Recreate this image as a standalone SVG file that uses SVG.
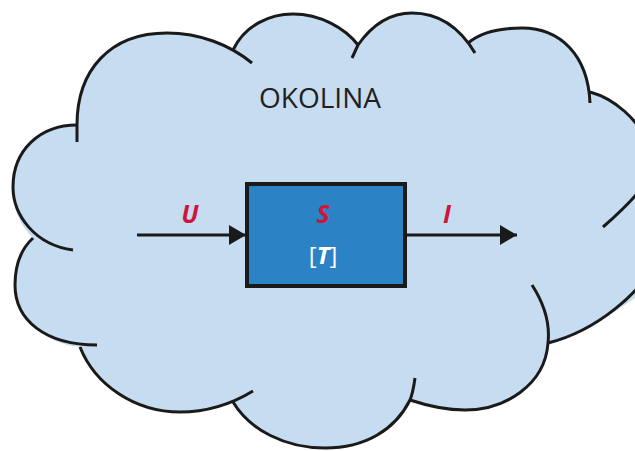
<svg xmlns="http://www.w3.org/2000/svg" width="635" height="451" viewBox="0 0 635 451">
<defs>
<style>
.lobe{fill:none;stroke:#1a1a1a;stroke-width:3;stroke-linecap:butt;stroke-linejoin:round}
.conn{fill:none;stroke:#1a1a1a;stroke-width:3}
.var{font-family:"Open Sans","Liberation Sans",sans-serif;font-weight:700;font-style:italic;font-size:25px;fill:#d0143c;text-anchor:middle}
.lbl{font-family:"Open Sans","Liberation Sans",sans-serif;font-size:28px;fill:#231f20;text-anchor:middle}
.inner{font-family:"Open Sans","Liberation Sans",sans-serif;font-size:24px;fill:#ffffff;text-anchor:middle}
</style>
<marker id="arr" viewBox="0 0 17 20" refX="17" refY="10" markerWidth="17" markerHeight="20" markerUnits="userSpaceOnUse" orient="auto">
<path d="M0,0 L17,10 L0,20 Z" fill="#1a1a1a"/>
</marker>
</defs>
<rect width="635" height="451" fill="#ffffff"/>
<g id="okolina">
<path fill="#c6dcf1" stroke="none" d="M77,125 C77,70 110,33 167,33 C200,33 222,42 233,50 C245,25 270,14 293,14 C320,14 345,28 358,45 C372,25 390,13 412,13 C440,13 458,28 468,43 C480,33 500,28 522,28 C560,28 588,55 590,92 C612,98 640,118 650,150 L665,200 L665,280 C640,290 600,330 548,343 C545,385 505,410 465,410 C445,410 425,405 410,400 C395,430 365,448 325,448 C285,448 250,430 233,402 C215,410 200,412 180,412 C135,412 95,385 80,347 C50,345 15,320 15,285 C15,268 20,250 33,238 C20,225 13,210 13,187 C13,150 40,125 77,125 Z"/>
<path class="lobe" d="M77,142 L77,125 C77,70 110,33 167,33 C200,33 230,45 252,63"/>
<path class="lobe" d="M233,50 C245,25 270,14 293,14 C320,14 345,28 358,45"/>
<path class="lobe" d="M352,58 L358,45 C372,25 390,13 412,13 C440,13 460,28 475,53"/>
<path class="lobe" d="M468,43 C480,33 500,28 522,28 C560,28 588,55 590,103"/>
<path class="lobe" d="M590,92 C612,98 640,118 650,150 C655,175 645,190 603,227"/>
<path class="lobe" d="M648,205 C665,225 662,255 650,270 C640,290 600,330 548,343"/>
<path class="lobe" d="M532,285 C545,305 550,325 548,343 C545,385 505,410 465,410 C445,410 425,405 410,400"/>
<path class="lobe" d="M415,378 C414,385 413,393 410,400 C395,430 365,448 325,448 C285,448 250,430 233,402"/>
<path class="lobe" d="M80,347 C95,385 135,412 180,412 C205,412 230,405 253,391"/>
<path class="lobe" d="M33,238 C20,250 15,268 15,285 C15,320 45,345 97,345"/>
<path class="lobe" d="M77,125 C40,125 13,150 13,187 C13,215 35,245 73,250"/>
<text class="lbl" x="320" y="108">OKOLINA</text>
</g>
<g id="connectors">
<line class="conn" x1="137" y1="235" x2="246" y2="235" marker-end="url(#arr)"/>
<line class="conn" x1="407" y1="235" x2="517" y2="235" marker-end="url(#arr)"/>
<text class="var" x="190" y="223">U</text>
<text class="var" x="447" y="223">I</text>
</g>
<g id="system">
<rect x="247" y="184" width="158" height="102" fill="#2b83c5" stroke="#1a1a1a" stroke-width="4"/>
<text class="var" x="323" y="223">S</text>
<text class="inner" x="323" y="264">[<tspan font-weight="700" font-style="italic">T</tspan>]</text>
</g>
</svg>
